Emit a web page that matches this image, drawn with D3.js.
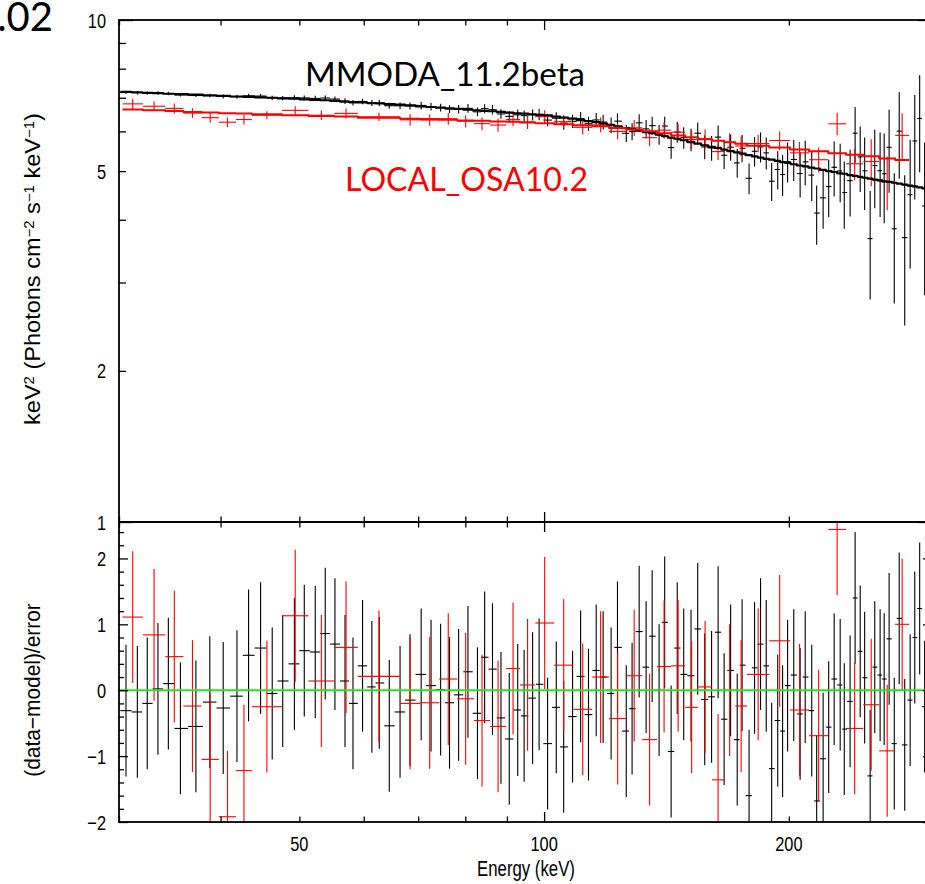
<!DOCTYPE html>
<html><head><meta charset="utf-8">
<script src="https://cdn.jsdelivr.net/npm/d3@7"></script>
<style>body{margin:0;background:#fff}svg{display:block}</style>
</head><body>
<svg id="c" width="925" height="884"></svg>
<script>
// ---------- DATA ----------
// MMODA (black): bin centres (keV), residuals, model (keV^2 ph cm^-2 s^-1 keV^-1), error in %
const blackE = [30.6,31.6,32.5,33.5,34.5,35.7,37.3,38.8,40.3,41.9,
43.3,44.8,46.3,47.7,49.3,50.7,52.3,53.8,55.3,56.9,
58.2,59.8,61.4,62.7,64.5,66.5,68.4,70.6,72.6,74.6,
76.5,78.5,80.6,82.8,84.5,86.4,88.5,90.6,92.8,94.5,
96.8,98.6,101.0,103.5,105.7,108.4,110.9,113.4,115.9,118.2,
120.9,123.1,126.2,128.3,130.9,133.5,135.8,138.5,140.7,143.3,
145.8,148.5,151.6,154.5,157.6,160.7,163.7,166.5,169.6,172.8,
175.2,178.7,181.5,184.6,187.6,190.5,193.8,196.5,199.3,202.8,
206.5,209.5,213.4,216.4,220.4,223.9,227.4,231.3,234.0,237.9,
241.3,244.8,247.9,251.8,255.1,259.0,262.0,265.7,269.6,273.4,
277.7,282.0,285.7,289.7,293.8];
const blackRes = [-0.31,-0.33,-0.2,0.02,0.1,-0.58,-0.55,-0.18,-0.27,-0.09,
0.53,0.64,-0.05,0.14,0.4,0.6,0.58,0.86,0.7,0.14,
-0.2,0.37,0.05,0.11,-0.54,-0.33,-0.15,0.24,0.07,0.01,
-0.19,-0.07,0.28,-0.35,0.5,0.32,-0.42,-0.74,-0.3,-0.39,
-0.12,0.09,-0.81,-0.26,-0.86,-0.4,0.21,-0.37,0.3,0.2,
-0.05,0.65,-0.62,-0.28,0.89,0.35,0.82,0.0,1.03,-0.93,
0.64,0.24,0.22,0.93,-0.14,-0.1,0.88,-0.44,0.3,-0.75,
0.38,-1.6,0.34,0.7,0.37,-1.19,-0.46,-0.62,0.07,0.23,
-0.36,0.2,-0.31,-1.68,-1.04,-0.56,0.17,0.08,-0.59,-0.17,
1.4,0.59,0.19,-1.3,0.35,0.23,0.17,0.78,-0.81,1.09,
-0.83,-0.15,0.8,1.24,-0.25];
const blackModel = [7.19,7.18,7.16,7.15,7.13,7.12,7.10,7.08,7.06,7.04,
7.03,7.01,7.00,6.98,6.97,6.95,6.93,6.92,6.90,6.88,
6.86,6.85,6.83,6.82,6.80,6.78,6.76,6.73,6.71,6.69,
6.67,6.65,6.63,6.61,6.59,6.58,6.56,6.54,6.52,6.51,
6.49,6.47,6.46,6.42,6.39,6.36,6.32,6.29,6.26,6.22,
6.18,6.14,6.09,6.06,6.02,5.98,5.95,5.91,5.87,5.83,
5.80,5.76,5.71,5.67,5.63,5.59,5.56,5.52,5.48,5.45,
5.42,5.38,5.35,5.32,5.29,5.27,5.24,5.21,5.19,5.16,
5.13,5.11,5.08,5.06,5.03,5.00,4.98,4.95,4.94,4.91,
4.89,4.87,4.85,4.83,4.81,4.79,4.77,4.76,4.74,4.72,
4.70,4.68,4.66,4.64,4.62];
const blackErrPct = [0.7,0.8,0.7,0.8,0.8,0.7,0.7,0.8,0.9,
0.9,0.9,1.0,1.0,1.0,1.1,
1.1,1.2,1.2,1.2,1.3,1.3,1.3,
1.4,1.5,1.4,1.5,1.6,
1.7,1.7,1.8,1.8,1.9,
2.0,2.0,2.1,2.2,2.2,
2.3,2.4,2.4,2.5,2.6,
2.7,2.8,2.9,3.0,
3.1,3.2,3.3,3.4,
3.6,3.7,3.8,3.9,
4.1,4.2,4.3,4.5,4.6,
4.8,4.9,5.0,
5.2,5.3,5.5,
5.6,5.8,5.9,6.1,
6.3,6.4,6.3,
6.9,7.2,7.5,7.9,
8.4,8.9,9.2,
9.6,10.0,10.4,
10.8,11.0,11.6,
12.2,12.8,
13.5,14.0,14.8,
15.5,16.3,17.0,
18.5,19.0,20.0,
21.0,22.0,23.5,
25.0,26.0,
27.5,29.0,30.0,
31.0];

// LOCAL_OSA10.2 (red): bin edges (keV), residuals, model, error in %
const redEdges = [30.3,32.1,34.2,36.0,37.9,39.8,41.8,43.7,47.6,51.3,55.2,59.0,66.5,70.4,74.3,78.2,82.0,85.8,89.8,93.4,97.5,102.9,108.6,114.6,120.2,126.2,132.0,137.7,143.3,149.1,154.7,160.9,166.5,171.8,177.7,189.2,200.7,211.8,223.6,235.2,246.9,258.3,270.3,281.2];
const redRes = [1.11,0.84,0.51,-0.24,-1.05,-1.92,-1.22,-0.25,1.13,0.14,0.65,0.21,-0.2,-0.19,0.17,-0.13,-0.46,-0.55,0.33,0.08,1.02,0.38,-0.29,0.2,-0.43,0.22,-0.75,0.36,0.37,-0.26,0.05,-1.36,0.0,-0.24,0.24,0.75,-0.3,-0.69,2.44,-0.58,-0.22,-0.92,1.0];
const redModel = [6.63,6.61,6.59,6.56,6.54,6.52,6.51,6.49,6.46,6.44,6.42,6.39,6.36,6.35,6.33,6.31,6.30,6.28,6.27,6.25,6.23,6.20,6.17,6.14,6.09,6.05,6.00,5.95,5.89,5.84,5.79,5.75,5.71,5.67,5.62,5.57,5.52,5.48,5.43,5.39,5.35,5.30,5.26];
const redErrPct = [2.4,2.2,2.3,2.2,2.2,2.1,2.2,1.8,2.0,2.2,2.3,1.9,2.6,2.6,2.7,2.8,2.9,3.0,3.1,3.2,3.0,3.1,3.2,3.4,3.5,3.7,3.8,3.9,4.0,4.1,4.3,3.6,4.2,4.4,4.0,4.4,5.0,5.6,5.9,7.0,10.5,11.0,12.0];

// ticks / labels
const xLabelTicks = [50,100,200];
const xMajorTicks = [100];
const xMinorTicks = [30,40,50,60,70,80,90,200,300];
const yTopLabelTicks = [1,2,5,10];
const yTopMajor = [1,10];
const yTopMinor = [2,3,4,5,6,7,8,9];
const yResLabelTicks = [-2,-1,0,1,2];
const labels = {
  mmoda: "MMODA_11.2beta",
  local: "LOCAL_OSA10.2",
  corner: ".02",
  xTitle: "Energy (keV)",
  resTitle: "(data\u2212model)/error"
};

// ---------- LAYOUT ----------
const L = 119, R = 932, T = 20, M = 522, B = 822;
const svg = d3.select("#c");
const x = d3.scaleLog().domain([30, 300]).range([L, R]);
const yT = d3.scaleLog().domain([1, 10]).range([M, T]);
const yR = d3.scaleLinear().domain([-2, 2.553]).range([B, M]);
const SX = 0.78;   // horizontal squeeze of the axis font
const FONT = "'Liberation Sans', Arial, Helvetica, sans-serif";

const defs = svg.append("defs");
defs.append("clipPath").attr("id","clipT").append("rect").attr("x",L).attr("y",T).attr("width",R-L).attr("height",M-T);
defs.append("clipPath").attr("id","clipR").append("rect").attr("x",L).attr("y",M).attr("width",R-L).attr("height",B-M);

const bEdges = [];
for (let i = 1; i < blackE.length; i++) bEdges[i] = Math.sqrt(blackE[i-1]*blackE[i]);
bEdges[0] = blackE[0]*blackE[0]/bEdges[1];
bEdges[blackE.length] = blackE[blackE.length-1]*blackE[blackE.length-1]/bEdges[blackE.length-1];

const black = blackE.map((e,i)=>({lo:bEdges[i], hi:bEdges[i+1], c:e, r:blackRes[i], m:blackModel[i], s:blackModel[i]*blackErrPct[i]/100}));
const red = redRes.map((r,i)=>({lo:redEdges[i], hi:redEdges[i+1], c:Math.sqrt(redEdges[i]*redEdges[i+1]), r:r, m:redModel[i], s:redModel[i]*redErrPct[i]/100}));

const gTop = svg.append("g").attr("clip-path","url(#clipT)");
const gRes = svg.append("g").attr("clip-path","url(#clipR)");

function drawTopData(arr, color, w){
  const g = gTop.append("g").attr("stroke", color).attr("stroke-width", w).attr("fill","none");
  arr.forEach(d=>{
    const v = d.m + d.r*d.s;
    g.append("line").attr("x1",x(d.c)).attr("x2",x(d.c)).attr("y1",yT(Math.max(v-d.s,0.5))).attr("y2",yT(v+d.s));
    g.append("line").attr("x1",x(d.lo)).attr("x2",x(d.hi)).attr("y1",yT(v)).attr("y2",yT(v));
  });
}
function drawModel(arr, color, w){
  const pts = [];
  arr.forEach(d=>{ pts.push([d.lo,d.m]); pts.push([d.hi,d.m]); });
  gTop.append("path").attr("d", d3.line().x(p=>x(p[0])).y(p=>yT(p[1]))(pts))
    .attr("fill","none").attr("stroke",color).attr("stroke-width",w).attr("stroke-linejoin","round");
}
function drawRes(arr, color, w){
  const g = gRes.append("g").attr("stroke", color).attr("stroke-width", w).attr("fill","none");
  arr.forEach(d=>{
    g.append("line").attr("x1",x(d.c)).attr("x2",x(d.c)).attr("y1",yR(d.r-1)).attr("y2",yR(d.r+1));
    g.append("line").attr("x1",x(d.lo)).attr("x2",x(d.hi)).attr("y1",yR(d.r)).attr("y2",yR(d.r));
  });
}

drawTopData(black, "#000", 1.1);
drawTopData(red, "#ff0000", 1.1);
drawModel(black, "#000", 2.2);
drawModel(red, "#ff0000", 2.0);

drawRes(black, "#000", 1.1);
drawRes(red, "#ff0000", 1.1);
gRes.append("line").attr("x1",L).attr("x2",R).attr("y1",yR(0)).attr("y2",yR(0))
  .attr("stroke","#22e622").attr("stroke-width",2);

// ---------- AXES (ticks via d3 axes) ----------
function tickAxis(axisFn, scale, vals, size, tx, ty){
  const g = svg.append("g").attr("transform",`translate(${tx},${ty})`)
    .call(axisFn(scale).tickValues(vals).tickSize(size).tickFormat(""));
  g.select(".domain").remove();
  g.selectAll("line").attr("stroke","#000").attr("stroke-width",1.3);
  return g;
}
tickAxis(d3.axisRight, yT, yTopMajor, 14, L, 0);
tickAxis(d3.axisRight, yT, yTopMinor, 7, L, 0);
tickAxis(d3.axisLeft, yT, yTopMajor, 14, R, 0);
tickAxis(d3.axisLeft, yT, yTopMinor, 7, R, 0);
const resMinor = d3.range(-20, 26, 2).map(v=>v/10).filter(v=>Math.abs(v-Math.round(v))>1e-6);
tickAxis(d3.axisRight, yR, yResLabelTicks, 9, L, 0);
tickAxis(d3.axisRight, yR, resMinor, 5, L, 0);
tickAxis(d3.axisLeft, yR, yResLabelTicks, 9, R, 0);
tickAxis(d3.axisLeft, yR, resMinor, 5, R, 0);
tickAxis(d3.axisBottom, x, xMajorTicks, 10, 0, T);
tickAxis(d3.axisBottom, x, xMinorTicks, 5.5, 0, T);
tickAxis(d3.axisTop, x, xMajorTicks, 10, 0, M);
tickAxis(d3.axisTop, x, xMinorTicks, 5.5, 0, M);
tickAxis(d3.axisBottom, x, xMajorTicks, 10, 0, M);
tickAxis(d3.axisBottom, x, xMinorTicks, 5.5, 0, M);
tickAxis(d3.axisTop, x, xMajorTicks, 10, 0, B);
tickAxis(d3.axisTop, x, xMinorTicks, 5.5, 0, B);

const frame = svg.append("g").attr("fill","none").attr("stroke","#000").attr("stroke-width",1.8);
frame.append("rect").attr("x",L).attr("y",T).attr("width",R-L).attr("height",M-T);
frame.append("rect").attr("x",L).attr("y",M).attr("width",R-L).attr("height",B-M);

// ---------- LABELS ----------
function sText(px, py, str, size, anchor, color){
  return svg.append("text").attr("transform",`translate(${px},${py}) scale(${SX},1)`)
    .attr("text-anchor",anchor).attr("font-family",FONT).attr("font-size",size)
    .attr("fill",color||"#000").text(str);
}
const fmtNum = v => (v<0 ? "\u2212"+Math.abs(v) : String(v));
yTopLabelTicks.forEach(v=> sText(106, yT(v)+7.5, fmtNum(v), 21, "end"));
yResLabelTicks.forEach(v=> sText(106, yR(v)+7.5, fmtNum(v), 21, "end"));
xLabelTicks.forEach(v=> sText(x(v), 851, fmtNum(v), 21, "middle"));
sText(526, 876, labels.xTitle, 21.5, "middle");

const yt = svg.append("text").attr("transform",`translate(40,269) rotate(-90) scale(1.07,1)`)
  .attr("text-anchor","middle").attr("font-family",FONT).attr("font-size",22).attr("fill","#000");
const parts = [["keV",0],["2",1],[" (Photons cm",0],["\u22122",1],[" s",0],["\u22121",1],[" keV",0],["\u22121",1],[")",0]];
parts.forEach(p=>{
  const t = yt.append("tspan").text(p[0]);
  if (p[1]) t.attr("font-size",14).attr("baseline-shift","40%");
});
svg.append("text").attr("transform",`translate(40,690) rotate(-90) scale(0.95,1)`)
  .attr("text-anchor","middle").attr("font-family",FONT).attr("font-size",22).attr("fill","#000")
  .text(labels.resTitle);

// annotations
const ANN = "Lato, 'Open Sans', sans-serif";
svg.append("text").attr("x",305).attr("y",86).attr("font-family",ANN).attr("font-size",33)
  .attr("textLength",280).attr("lengthAdjust","spacingAndGlyphs").attr("fill","#000").text(labels.mmoda);
svg.append("text").attr("x",345).attr("y",191).attr("font-family",ANN).attr("font-size",33)
  .attr("textLength",243).attr("lengthAdjust","spacingAndGlyphs").attr("fill","#ff0000").text(labels.local);
svg.append("text").attr("x",53).attr("y",31).attr("text-anchor","end").attr("font-family",ANN).attr("font-size",40)
  .attr("fill","#000").text(labels.corner);
</script>
</body></html>
